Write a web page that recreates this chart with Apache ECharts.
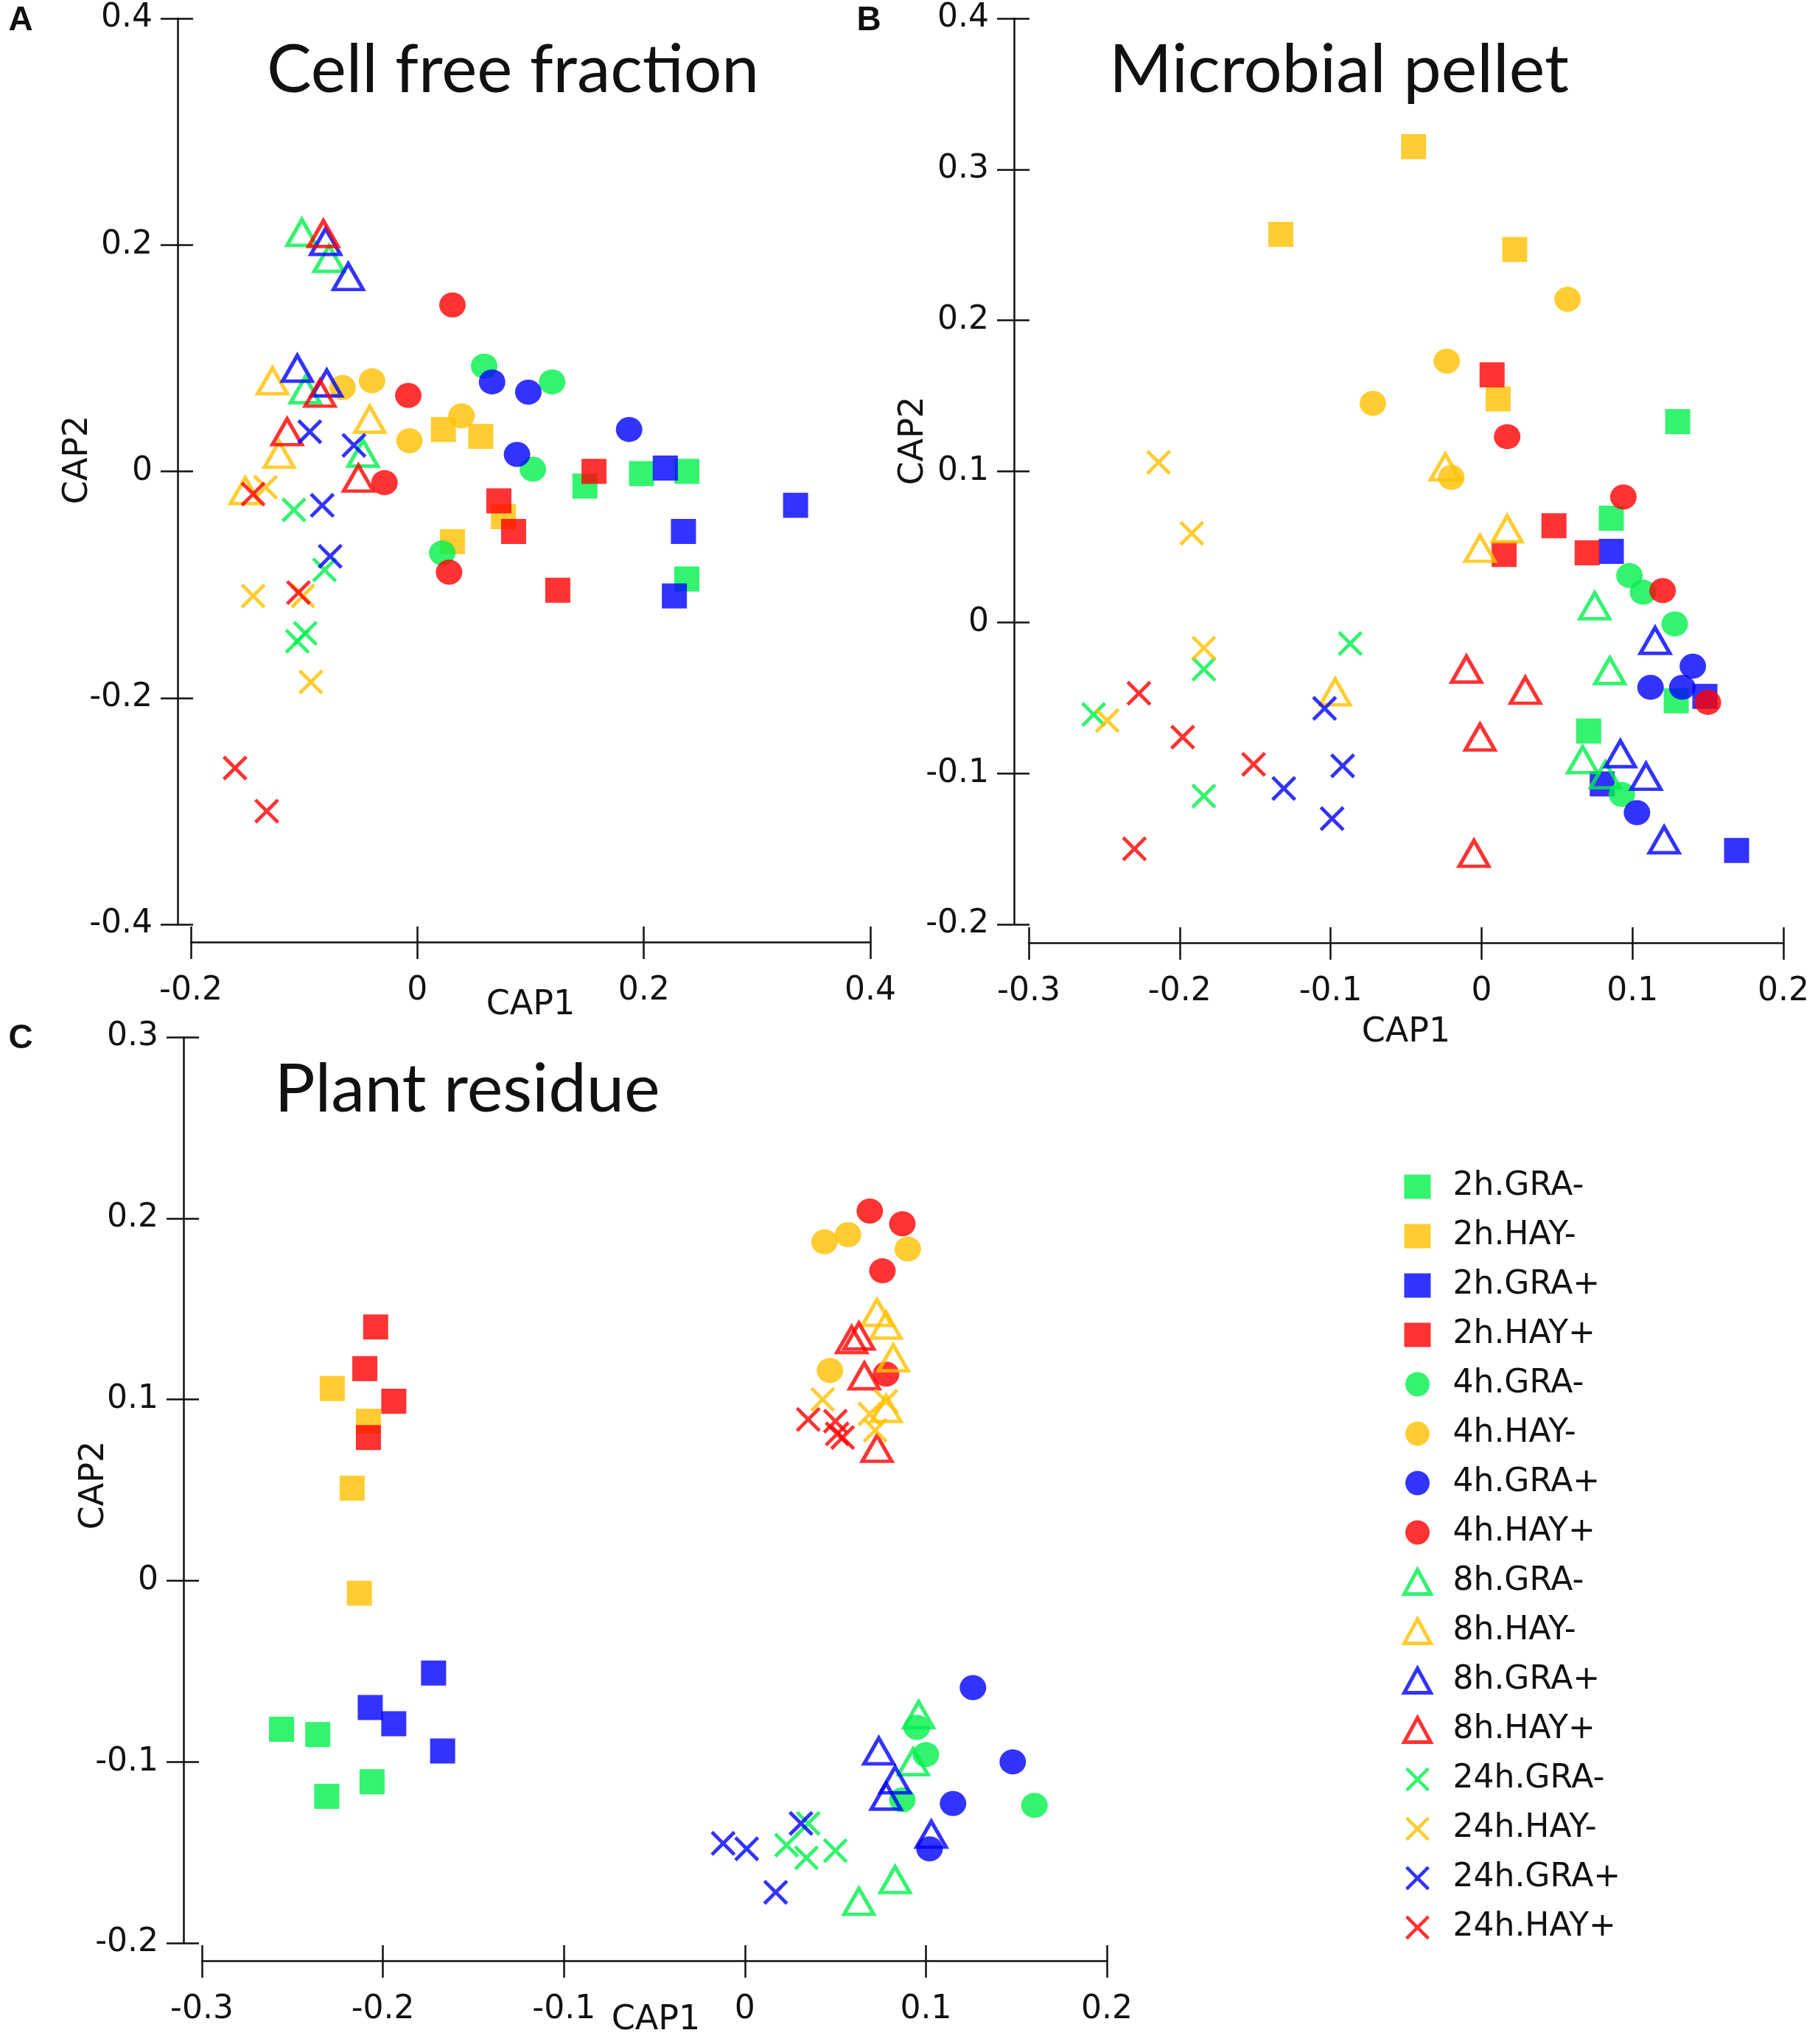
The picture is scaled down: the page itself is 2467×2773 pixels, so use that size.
<!DOCTYPE html>
<html>
<head>
<meta charset="utf-8">
<script src="https://cdn.jsdelivr.net/npm/echarts@6/dist/echarts.min.js"></script>
<style>
  html, body { margin: 0; background: #fff; }
  #chart { width: 2467px; height: 2773px; }
</style>
</head>
<body>
<div id="chart"></div>
<script>
// groups: time point x diet/inoculum, 4 replicates each
const groups = ['2h.GRA-', '2h.HAY-', '2h.GRA+', '2h.HAY+',
                '4h.GRA-', '4h.HAY-', '4h.GRA+', '4h.HAY+',
                '8h.GRA-', '8h.HAY-', '8h.GRA+', '8h.HAY+',
                '24h.GRA-', '24h.HAY-', '24h.GRA+', '24h.HAY+'];

// A - cell free fraction (4 values per group, same order as groups)
const cellFreeX = [
  0.148, 0.198, 0.238, 0.238,    0.023, 0.056, 0.031, 0.076,
  0.219, 0.334, 0.235, 0.227,    0.156, 0.072, 0.085, 0.124,
  0.059, 0.119, 0.102, 0.022,   -0.066, -0.040, -0.007, 0.039,
  0.066, 0.098, 0.088, 0.187,    0.031, -0.008, -0.029, 0.028,
  -0.102, -0.078, -0.099, -0.048, -0.128, -0.042, -0.122, -0.152,
  -0.081, -0.061, -0.106, -0.080, -0.083, -0.086, -0.115, -0.052,
  -0.109, -0.082, -0.099, -0.106, -0.134, -0.145, -0.101, -0.094,
  -0.095, -0.056, -0.084, -0.077, -0.145, -0.105, -0.161, -0.133
];
const cellFreeY = [
  -0.013, -0.002, 0.000, -0.095,  0.037, 0.031, -0.062, -0.040,
  0.003, -0.030, -0.053, -0.110,  0.000, -0.026, -0.053, -0.105,
  0.093, 0.079, 0.002, -0.072,    0.074, 0.080, 0.027, 0.049,
  0.079, 0.070, 0.015, 0.037,     0.147, 0.067, -0.010, -0.089,
  0.211, 0.188, 0.072, 0.016,     0.080, 0.046, 0.015, -0.017,
  0.203, 0.172, 0.091, 0.078,     0.210, 0.069, 0.035, -0.006,
  -0.034, -0.087, -0.143, -0.150, -0.014, -0.110, -0.110, -0.186,
  0.035, 0.023, -0.030, -0.075,   -0.020, -0.107, -0.262, -0.300
];

// B - microbial pellet
const pelletX = [
  0.130, 0.086, 0.071, 0.129,     -0.045, -0.133, 0.022, 0.011,
  0.086, 0.148, 0.080, 0.169,     0.007, 0.048, 0.015, 0.070,
  0.098, 0.107, 0.128, 0.093,     0.057, -0.023, -0.072, -0.020,
  0.140, 0.112, 0.133, 0.103,     0.017, 0.094, 0.120, 0.150,
  0.075, 0.085, 0.067, 0.082,     -0.024, 0.017, -0.001, -0.097,
  0.115, 0.092, 0.109, 0.121,     -0.010, 0.029, -0.001, -0.005,
  -0.087, -0.184, -0.257, -0.184, -0.214, -0.192, -0.184, -0.248,
  -0.104, -0.092, -0.131, -0.099, -0.227, -0.198, -0.151, -0.230
];
const pelletY = [
  0.133, 0.069, -0.072, -0.052,   0.315, 0.257, 0.247, 0.148,
  0.047, -0.049, -0.107, -0.151,  0.164, 0.064, 0.045, 0.046,
  0.031, 0.020, -0.001, -0.114,   0.214, 0.173, 0.145, 0.096,
  -0.029, -0.043, -0.043, -0.126, 0.123, 0.083, 0.021, -0.053,
  0.011, -0.032, -0.091, -0.101, 0.103, 0.062, 0.049, -0.046,
  -0.012, -0.087, -0.102, -0.144, -0.031, -0.045, -0.076, -0.153,
  -0.014, -0.031, -0.061, -0.115, 0.106, 0.059, -0.017, -0.065,
  -0.057, -0.095, -0.110, -0.130, -0.047, -0.076, -0.094, -0.150
];

// C - plant residue
const residueX = [
  -0.256, -0.236, -0.231, -0.206, -0.228, -0.208, -0.217, -0.213,
  -0.172, -0.207, -0.194, -0.167, -0.204, -0.210, -0.194, -0.208,
  0.095, 0.100, 0.087, 0.160,     0.044, 0.057, 0.090, 0.047,
  0.126, 0.148, 0.115, 0.102,     0.069, 0.087, 0.076, 0.078,
  0.096, 0.093, 0.083, 0.063,     0.073, 0.078, 0.082, 0.078,
  0.074, 0.083, 0.078, 0.103,     0.059, 0.063, 0.066, 0.073,
  0.035, 0.023, 0.034, 0.050,     0.043, 0.069, 0.078, 0.072,
  0.031, 0.001, 0.017, -0.012,    0.035, 0.050, 0.051, 0.054
];
const residueY = [
  -0.082, -0.085, -0.119, -0.111, 0.106, 0.088, 0.051, -0.007,
  -0.051, -0.070, -0.079, -0.094, 0.140, 0.117, 0.099, 0.079,
  -0.081, -0.096, -0.121, -0.124, 0.187, 0.191, 0.183, 0.116,
  -0.059, -0.100, -0.123, -0.148, 0.204, 0.197, 0.171, 0.114,
  -0.074, -0.100, -0.165, -0.177, 0.148, 0.141, 0.123, 0.095,
  -0.094, -0.110, -0.119, -0.140, 0.133, 0.135, 0.113, 0.073,
  -0.134, -0.146, -0.153, -0.149, 0.100, 0.092, 0.099, 0.083,
  -0.134, -0.148, -0.172, -0.145, 0.089, 0.088, 0.081, 0.079
];

// axis tick labels
const cellFreeTicksX = [-0.2, 0, 0.2, 0.4];
const cellFreeTicksY = [-0.4, -0.2, 0, 0.2, 0.4];
const pelletTicksX = [-0.3, -0.2, -0.1, 0, 0.1, 0.2];
const pelletTicksY = [-0.2, -0.1, 0, 0.1, 0.2, 0.3, 0.4];
const residueTicksX = [-0.3, -0.2, -0.1, 0, 0.1, 0.2];
const residueTicksY = [-0.2, -0.1, 0, 0.1, 0.2, 0.3];

const colors = ['#00F04B', '#FFC000', '#0000FF', '#FF0000'];
const crossPath = 'path://M1,0L5,4L9,0L10,1L6,5L10,9L9,10L5,6L1,10L0,9L4,5L0,1Z';
const ink = '#111';
const tickFont = 'DejaVu Sans';

function marker(g) {
  const shape = Math.floor(g / 4);
  const c = colors[g % 4];
  if (shape === 0) return { symbol: 'rect', symbolSize: 34, itemStyle: { color: c } };
  if (shape === 1) return { symbol: 'circle', symbolSize: [36, 34], itemStyle: { color: c } };
  if (shape === 2) return {
    symbol: 'triangle', symbolSize: [40, 35],
    itemStyle: { color: 'rgba(255,255,255,0)', borderColor: c, borderWidth: 5 }
  };
  return { symbol: crossPath, symbolSize: 34, itemStyle: { color: c } };
}

const panels = [
  { xs: cellFreeX, ys: cellFreeY, tx: cellFreeTicksX, ty: cellFreeTicksY,
    grid: { left: 259, top: 25, width: 922, height: 1229 }, offX: 24, offY: 18 },
  { xs: pelletX, ys: pelletY, tx: pelletTicksX, ty: pelletTicksY,
    grid: { left: 1396, top: 25, width: 1024, height: 1229 }, offX: 25, offY: 20 },
  { xs: residueX, ys: residueY, tx: residueTicksX, ty: residueTicksY,
    grid: { left: 274, top: 1407, width: 1228, height: 1229 }, offX: 24, offY: 25 }
];

const lineStyle = { color: ink, width: 2.5 };
const grids = [], xAxes = [], yAxes = [], series = [];

panels.forEach((p, i) => {
  grids.push(p.grid);
  const xMin = p.tx[0], xMax = p.tx[p.tx.length - 1];
  const yMin = p.ty[0], yMax = p.ty[p.ty.length - 1];
  const xStep = +(p.tx[1] - p.tx[0]).toFixed(3);
  const yStep = +(p.ty[1] - p.ty[0]).toFixed(3);
  // main axes: line, labels, outward ticks
  xAxes.push({
    type: 'value', gridIndex: i, position: 'bottom', min: xMin, max: xMax, interval: xStep, offset: p.offX,
    axisLine: { show: true, onZero: false, lineStyle },
    axisTick: { show: true, inside: false, length: 23, lineStyle },
    axisLabel: { margin: 45, fontFamily: tickFont, fontSize: 44, color: ink },
    splitLine: { show: false }
  });
  yAxes.push({
    type: 'value', gridIndex: i, position: 'left', min: yMin, max: yMax, interval: yStep, offset: p.offY,
    axisLine: { show: true, onZero: false, lineStyle },
    axisTick: { show: true, inside: false, length: 23, lineStyle },
    axisLabel: { margin: 34, fontFamily: tickFont, fontSize: 44, color: ink },
    splitLine: { show: false }
  });
  // twin axes: the inward half of the crossing ticks
  xAxes.push({
    type: 'value', gridIndex: i, position: 'bottom', min: xMin, max: xMax, interval: xStep, offset: p.offX,
    axisLine: { show: false, onZero: false },
    axisTick: { show: true, inside: true, length: 21, lineStyle },
    axisLabel: { show: false }, splitLine: { show: false }
  });
  yAxes.push({
    type: 'value', gridIndex: i, position: 'left', min: yMin, max: yMax, interval: yStep, offset: p.offY,
    axisLine: { show: false, onZero: false },
    axisTick: { show: true, inside: true, length: 21, lineStyle },
    axisLabel: { show: false }, splitLine: { show: false }
  });

  groups.forEach((name, g) => {
    const data = [];
    for (let k = 0; k < 4; k++) data.push([p.xs[g * 4 + k], p.ys[g * 4 + k]]);
    series.push(Object.assign({
      name, type: 'scatter', xAxisIndex: i * 2, yAxisIndex: i * 2, data
    }, marker(g)));
  });
});

const legendData = groups.map((name, g) =>
  Math.floor(g / 4) === 2 ? { name, itemStyle: { borderWidth: 5 } } : { name });

const titleFont = 'Lato';
function label(text, x, y, size, opts) {
  return {
    type: 'text', x, y, rotation: (opts && opts.rot) || 0,
    style: {
      text, fill: ink, textAlign: 'center', textVerticalAlign: 'middle',
      font: ((opts && opts.weight) || 'normal') + ' ' + size + 'px "' + ((opts && opts.family) || tickFont) + '"'
    }
  };
}

const chart = echarts.init(document.getElementById('chart'));
chart.setOption({
  animation: false,
  backgroundColor: '#fff',
  grid: grids,
  xAxis: xAxes,
  yAxis: yAxes,
  legend: {
    data: legendData, orient: 'vertical', left: 1903, top: 1588, padding: 0,
    itemWidth: 36, itemHeight: 33, itemGap: 23,
    textStyle: { fontFamily: tickFont, fontSize: 44, lineHeight: 44, color: ink, padding: [0, 0, 0, 25] }
  },
  graphic: [
    label('A', 28, 28, 46, { weight: 'bold', family: 'Liberation Sans' }),
    label('B', 1179, 28, 46, { weight: 'bold', family: 'Liberation Sans' }),
    label('C', 28, 1409, 46, { weight: 'bold', family: 'Liberation Sans' }),
    label('Cell free fraction', 696, 96, 91, { family: titleFont }),
    label('Microbial pellet', 1817, 95, 92, { family: titleFont }),
    label('Plant residue', 634, 1478, 92, { family: titleFont }),
    label('CAP1', 720, 1364, 46),
    label('CAP1', 1908, 1401, 46),
    label('CAP1', 890, 2741, 46),
    label('CAP2', 106, 624, 46, { rot: Math.PI / 2 }),
    label('CAP2', 1240, 598, 46, { rot: Math.PI / 2 }),
    label('CAP2', 128, 2015, 46, { rot: Math.PI / 2 })
  ],
  series
});
</script>
</body>
</html>
